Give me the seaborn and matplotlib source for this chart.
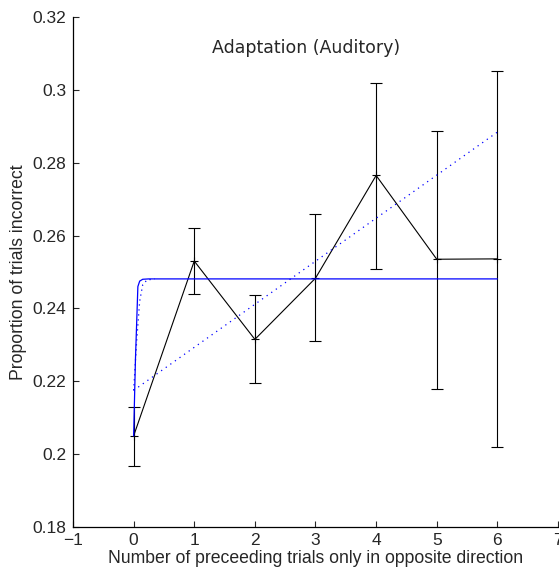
import numpy as np
import pandas as pd
import matplotlib
matplotlib.use("Agg")
import matplotlib.pyplot as plt
import seaborn as sns

# Data
x_trials = [0, 1, 2, 3, 4, 5, 6]
p_incorrect = [0.2050, 0.2530, 0.2315, 0.2483, 0.2765, 0.2535, 0.2536]
err_low = [0.1967, 0.2440, 0.2195, 0.2310, 0.2508, 0.2180, 0.2020]
err_high = [0.2130, 0.2620, 0.2437, 0.2658, 0.3020, 0.2888, 0.3052]

# exponential fit curve (solid blue)
fit_x = [0.0, 0.03, 0.07, 0.10, 0.15, 0.25, 6.0]
fit_y = [0.2050, 0.2260, 0.2460, 0.2475, 0.2480, 0.2481, 0.2481]
# dotted fit near onset
fit2_x = [0.0, 0.05, 0.10, 0.15, 0.22, 0.35]
fit2_y = [0.2175, 0.2310, 0.2420, 0.2465, 0.2478, 0.2481]
# linear fit (dotted blue)
lin_x = [0.0, 6.0]
lin_y = [0.2175, 0.2884]

sns.set_style("white")
plt.rcParams['font.family'] = ['Liberation Sans', 'DejaVu Sans']

fig = plt.figure(figsize=(5.59, 5.72), dpi=100)
ax = fig.add_axes([0.1306, 0.0787, 0.8676, 0.8916])

df = pd.DataFrame({"x": x_trials, "y": p_incorrect})
yerr = np.array([np.array(p_incorrect) - np.array(err_low),
                 np.array(err_high) - np.array(p_incorrect)])
ax.errorbar(x_trials, p_incorrect, yerr=yerr, fmt='none', ecolor='black',
            elinewidth=0.8, capsize=4, capthick=0.8, zorder=3)
sns.lineplot(data=df, x="x", y="y", ax=ax, color='black', linewidth=0.8,
             marker='+', markersize=6, markeredgewidth=0.8,
             markeredgecolor='black', zorder=4)

sns.lineplot(x=fit_x, y=fit_y, ax=ax, color='#0000ff', linewidth=0.9, zorder=5)
sns.lineplot(x=fit2_x, y=fit2_y, ax=ax, color='#0000ff', linewidth=0.9,
             linestyle=(0, (1, 3)), zorder=5)
sns.lineplot(x=lin_x, y=lin_y, ax=ax, color='#0000ff', linewidth=0.9,
             linestyle=(0, (1, 3.5)), zorder=5)

ax.set_xlim(-1, 7)
ax.set_ylim(0.18, 0.32)
ax.set_xticks(range(-1, 8))
ax.set_xticklabels(['\u22121'] + [str(i) for i in range(0, 8)])
yt = [0.18, 0.2, 0.22, 0.24, 0.26, 0.28, 0.3, 0.32]
ax.set_yticks(yt)
ax.set_yticklabels(['0.18', '0.2', '0.22', '0.24', '0.26', '0.28', '0.3', '0.32'])
ax.tick_params(direction='in', length=4, width=0.8, labelsize=12.5, pad=5,
               left=True, bottom=True)
ax.tick_params(axis='x', pad=4)
for s in ['top', 'right']:
    ax.spines[s].set_visible(False)
for s in ['left', 'bottom']:
    ax.spines[s].set_color('black')
    ax.spines[s].set_linewidth(0.9)

ax.set_xlabel("Number of preceeding trials only in opposite direction",
              fontsize=12.7, labelpad=2)
ax.set_ylabel("Proportion of trials incorrect", fontsize=12.7, labelpad=4)
ax.text(0.48, 0.94, "Adaptation (Auditory)", transform=ax.transAxes,
        ha='center', va='center', fontsize=12.5, family='DejaVu Sans')

fig.savefig("out.png", dpi=100)
